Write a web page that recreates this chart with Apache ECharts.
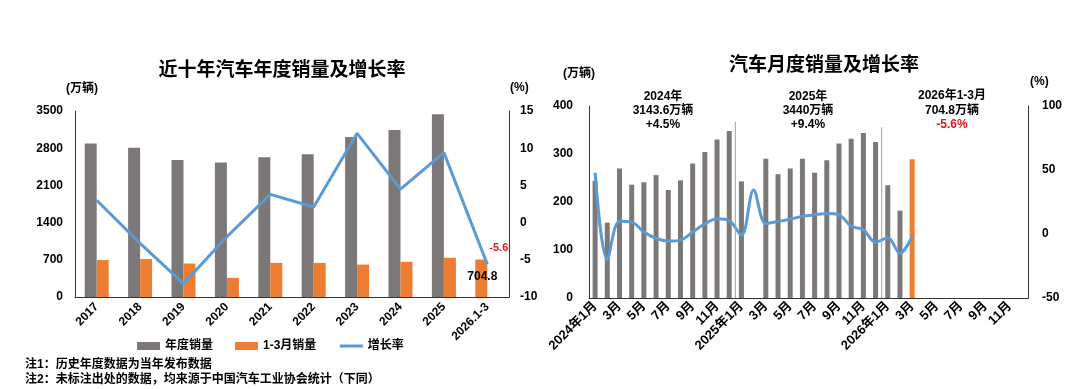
<!DOCTYPE html>
<html>
<head>
<meta charset="utf-8">
<script src="https://cdn.jsdelivr.net/npm/echarts@6/dist/echarts.min.js"></script>
<style>
html,body{margin:0;padding:0;background:#fff;}
#c{width:1080px;height:389px;}
</style>
</head>
<body>
<div id="c"></div>
<script>
// ---- Left chart data ----
const yearCats = ['2017','2018','2019','2020','2021','2022','2023','2024','2025','2026.1-3'];
const annualSales = [2887.9, 2808.1, 2576.9, 2531.1, 2627.5, 2686.4, 3009.4, 3143.6, 3440, 704.8];
const q1Sales = [695, 715, 630, 360, 642, 642, 610, 662, 738, null];
const annualGrowth = [3.0, -2.8, -8.2, -1.9, 3.8, 2.1, 12.0, 4.5, 9.4, -5.6];
const leftTicks = [0, 700, 1400, 2100, 2800, 3500];
const rightTicks = [-10, -5, 0, 5, 10, 15];

// ---- Right chart data ----
const months = ['2024年1月','2月','3月','4月','5月','6月','7月','8月','9月','10月','11月','12月',
                '2025年1月','2月','3月','4月','5月','6月','7月','8月','9月','10月','11月','12月',
                '2026年1月','2月','3月','4月','5月','6月','7月','8月','9月','10月','11月','12月'];
const monthlySales = [244, 157, 270, 236, 241, 256, 225, 245, 280, 304, 330, 348,
                      243, null, 290, 258, 270, 290, 261, 287, 322, 332, 344, 325,
                      235, 182, 289, null, null, null, null, null, null, null, null, null];
const monthlyGrowth = [48, -19.9, 9.9, 9.3, 1.5, -3.5, -5.5, -4.8, 1.5, 8, 12, 10.5,
                       -1, 34.4, 8.2, 9.8, 11.5, 13.8, 15, 16, 15, 6, 3.4, -6.5,
                       -3, -15, -2, null, null, null, null, null, null, null, null, null];
const highlightIndex = 26;

const FF = '"Liberation Sans","Noto Sans CJK SC",sans-serif';
const GRAY = '#7D7878';
const ORANGE = '#ED7D31';
const BLUE = '#5B9BD5';
const AX = '#333333';

const chart = echarts.init(document.getElementById('c'), null, {renderer: 'canvas'});

function axisLabel(extra) {
  return Object.assign({color: '#000', fontWeight: 'bold', fontSize: 12, fontFamily: FF}, extra || {});
}

const option = {
  animation: false,
  backgroundColor: '#fff',
  grid: [
    {left: 75, width: 434, top: 111, height: 186},
    {left: 589, width: 439, top: 106, height: 192}
  ],
  legend: {
    data: [
      {name: '年度销量', icon: 'rect'},
      {name: '1-3月销量', icon: 'rect'},
      {name: '增长率', itemStyle: {opacity: 0}}
    ],
    left: 132, top: 335,
    itemWidth: 23, itemHeight: 8, itemGap: 22,
    lineStyle: {width: 3},
    textStyle: {color: '#000', fontWeight: 'bold', fontSize: 12, fontFamily: FF}
  },
  xAxis: [
    {
      type: 'category', gridIndex: 0, data: yearCats,
      axisLine: {lineStyle: {color: AX, width: 1}},
      axisTick: {show: false},
      axisLabel: axisLabel({rotate: 45, interval: 0, margin: 8})
    },
    {
      type: 'category', gridIndex: 1, data: months,
      axisLine: {lineStyle: {color: AX, width: 1}},
      axisTick: {show: false},
      axisLabel: axisLabel({rotate: 45, interval: 1, margin: 6, fontSize: 13})
    }
  ],
  yAxis: [
    {
      type: 'value', gridIndex: 0, min: leftTicks[0], max: leftTicks[leftTicks.length - 1], interval: 700,
      axisLine: {show: true, lineStyle: {color: AX}}, axisTick: {show: false}, splitLine: {show: false},
      axisLabel: axisLabel({margin: 12, formatter: v => String(v)})
    },
    {
      type: 'value', gridIndex: 0, min: rightTicks[0], max: rightTicks[rightTicks.length - 1], interval: 5, position: 'right',
      axisLine: {show: true, lineStyle: {color: AX}}, axisTick: {show: false}, splitLine: {show: false},
      axisLabel: axisLabel({margin: 11, formatter: v => String(v)})
    },
    {
      type: 'value', gridIndex: 1, min: 0, max: 400, interval: 100,
      axisLine: {show: true, lineStyle: {color: AX}}, axisTick: {show: false}, splitLine: {show: false},
      axisLabel: axisLabel({margin: 16, formatter: v => String(v)})
    },
    {
      type: 'value', gridIndex: 1, min: -50, max: 100, interval: 50, position: 'right',
      axisLine: {show: true, lineStyle: {color: AX}}, axisTick: {show: false}, splitLine: {show: false},
      axisLabel: axisLabel({margin: 14, formatter: v => String(v)})
    }
  ],
  series: [
    {
      name: '年度销量', type: 'bar', xAxisIndex: 0, yAxisIndex: 0,
      barWidth: 12, barGap: '0%',
      itemStyle: {color: GRAY},
      data: annualSales.map((v, i) => i === annualSales.length - 1 ? {
        value: v, itemStyle: {color: ORANGE},
        label: {show: true, position: 'insideTop', offset: [1, 6], formatter: String(v),
                color: '#000', fontWeight: 'bold', fontSize: 12, fontFamily: FF}
      } : v)
    },
    {
      name: '1-3月销量', type: 'bar', xAxisIndex: 0, yAxisIndex: 0,
      barWidth: 12, barGap: '0%',
      itemStyle: {color: ORANGE},
      data: q1Sales
    },
    {
      name: '增长率', type: 'line', xAxisIndex: 0, yAxisIndex: 1,
      symbol: 'none', showSymbol: false, clip: false,
      lineStyle: {color: BLUE, width: 3},
      itemStyle: {color: BLUE},
      endLabel: {
        show: true, formatter: p => String(p.value), distance: 2, offset: [0, -16],
        color: '#E3161D', fontWeight: 'bold', fontSize: 11, fontFamily: FF
      },
      data: annualGrowth
    },
    {
      name: '月度销量', type: 'bar', xAxisIndex: 1, yAxisIndex: 2,
      barWidth: 5,
      itemStyle: {color: GRAY},
      data: monthlySales.map((v, i) => i === highlightIndex ? {value: v, itemStyle: {color: ORANGE}} : v)
    },
    {
      name: '月度增长率', type: 'line', xAxisIndex: 1, yAxisIndex: 3,
      symbol: 'none', showSymbol: false, smooth: 0.35,
      lineStyle: {color: BLUE, width: 3},
      data: monthlyGrowth
    }
  ]
};

chart.setOption(option);

// dividers between years on the monthly chart, placed with the axis scales
function boundaryX(a, b) {
  const pa = chart.convertToPixel({xAxisIndex: 1}, a);
  const pb = chart.convertToPixel({xAxisIndex: 1}, b);
  return (pa + pb) / 2;
}
const yBase = chart.convertToPixel({yAxisIndex: 2}, 0);
const d1x = boundaryX(11, 12), d1top = chart.convertToPixel({yAxisIndex: 2}, 367);
const d2x = boundaryX(23, 24), d2top = chart.convertToPixel({yAxisIndex: 2}, 356);

function txt(text, x, y, opts) {
  opts = opts || {};
  return {
    type: 'text', x: x, y: y, silent: true, z: 100,
    style: {
      text: text,
      font: (opts.weight || 'bold') + ' ' + (opts.size || 12) + 'px ' + FF,
      fill: opts.color || '#000',
      textAlign: opts.align || 'left',
      textVerticalAlign: 'middle'
    }
  };
}

chart.setOption({
  graphic: [
    {type: 'line', silent: true, z: 50, shape: {x1: d1x, y1: d1top, x2: d1x, y2: yBase}, style: {stroke: '#8FA6BA', lineWidth: 1}},
    {type: 'line', silent: true, z: 50, shape: {x1: d2x, y1: d2top, x2: d2x, y2: yBase}, style: {stroke: '#8FA6BA', lineWidth: 1}},
    txt('近十年汽车年度销量及增长率', 282, 71, {size: 19, align: 'center'}),
    txt('汽车月度销量及增长率', 824, 66, {size: 19, align: 'center'}),
    txt('(万辆)', 66, 89),
    txt('(%)', 510, 88),
    txt('(万辆)', 563, 74),
    txt('(%)', 1030, 82),
    txt('2024年', 663, 97, {align: 'center'}),
    txt('3143.6万辆', 663, 111, {align: 'center'}),
    txt('+4.5%', 663, 125, {align: 'center'}),
    txt('2025年', 808, 97, {align: 'center'}),
    txt('3440万辆', 808, 111, {align: 'center'}),
    txt('+9.4%', 808, 125, {align: 'center'}),
    txt('2026年1-3月', 952, 96, {align: 'center'}),
    txt('704.8万辆', 952, 111, {align: 'center'}),
    txt('-5.6%', 952, 125, {align: 'center', color: '#E3161D'}),
    txt('注1：历史年度数据为当年发布数据', 25, 365),
    txt('注2：未标注出处的数据，均来源于中国汽车工业协会统计（下同）', 25, 380)
  ]
});
</script>
</body>
</html>
